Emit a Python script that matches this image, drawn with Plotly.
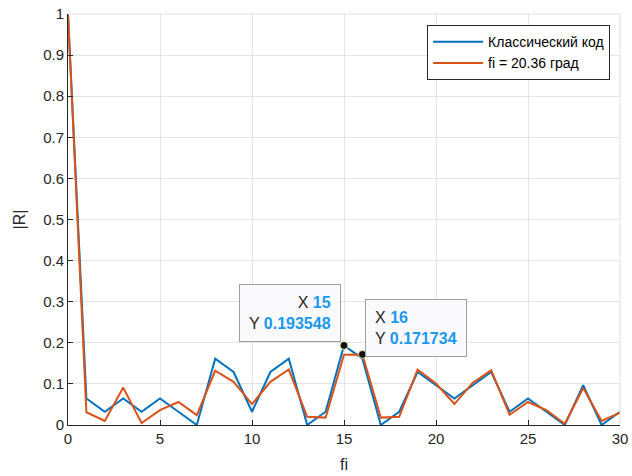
import plotly.graph_objects as go

# Lag index
lags = list(range(31))

# Autocorrelation magnitude, classical code
r_classic = [1.0, 0.0645, 0.0323, 0.0645, 0.0323, 0.0645, 0.0323, 0.0, 0.1613, 0.1290,
             0.0323, 0.1290, 0.1613, 0.0, 0.0323, 0.193548, 0.1613, 0.0, 0.0323, 0.1290,
             0.0968, 0.0645, 0.0968, 0.1290, 0.0323, 0.0645, 0.0323, 0.0, 0.0968, 0.0,
             0.0323]

# Autocorrelation magnitude, phase fi = 20.36 deg
r_phase = [1.0, 0.031, 0.010, 0.091, 0.005, 0.036, 0.056, 0.024, 0.132, 0.105,
           0.051, 0.105, 0.135, 0.020, 0.018, 0.171, 0.171734, 0.018, 0.020, 0.135,
           0.101, 0.051, 0.103, 0.133, 0.025, 0.056, 0.036, 0.003, 0.090, 0.010,
           0.030]

# Data tips
tip_x = [15, 16]
tip_y = [0.193548, 0.171734]

BLUE = "#0072BD"
ORANGE = "#D95319"
TXT = "#262626"
VAL = "#1A98F0"
FONT = "Liberation Sans, Arial, sans-serif"

fig = go.Figure()
fig.add_trace(go.Scatter(x=lags, y=r_classic, mode="lines", name="Классический код",
                         line=dict(color=BLUE, width=2)))
fig.add_trace(go.Scatter(x=lags, y=r_phase, mode="lines", name="fi = 20.36 град",
                         line=dict(color=ORANGE, width=2)))
fig.add_trace(go.Scatter(x=tip_x, y=tip_y, mode="markers", showlegend=False,
                         hoverinfo="skip",
                         marker=dict(color="#111111", size=8,
                                     line=dict(color="#f2e9a0", width=1))))

def tip_text(x, y):
    return (f"X <b><span style='color:{VAL}'>{x}</span></b><br>"
            f"Y <b><span style='color:{VAL}'>{y:g}</span></b>")

tip_layout = [("right", -3, 3), ("left", 3, -3)]
for (xa, xs, ys), x, y in zip(tip_layout, tip_x, tip_y):
    fig.add_annotation(x=x, y=y, xref="x", yref="y", showarrow=False,
                       text=tip_text(x, y), align="right" if xa == "right" else "left",
                       xanchor=xa, yanchor="bottom", xshift=xs, yshift=ys,
                       font=dict(family=FONT, size=16, color=TXT),
                       bgcolor="rgba(250,250,253,0.95)", bordercolor="#a0a0a0",
                       borderwidth=1, borderpad=9)

axis_common = dict(
    showline=True, linecolor=TXT, linewidth=1, mirror=False,
    ticks="inside", ticklen=5, tickcolor=TXT, tickwidth=1,
    showgrid=True, gridcolor="#e4e4e4", gridwidth=1, zeroline=False,
    automargin=False,
    tickfont=dict(family=FONT, size=15, color=TXT),
    title_font=dict(family=FONT, size=16, color=TXT),
)

fig.update_xaxes(range=[0, 30], tickvals=[0, 5, 10, 15, 20, 25, 30],
                 title_text="fi", title_standoff=12, **axis_common)
fig.update_yaxes(range=[0, 1], tickvals=[i / 10 for i in range(11)],
                 ticktext=["0", "0.1", "0.2", "0.3", "0.4", "0.5", "0.6", "0.7", "0.8", "0.9", "1"],
                 **axis_common)

# y-axis title
fig.add_annotation(text="|R|", xref="paper", yref="paper", x=0, y=0.5,
                   xanchor="center", yanchor="middle", xshift=-49, textangle=-90,
                   showarrow=False, font=dict(family=FONT, size=16, color=TXT))

# light box on the top and right edges
fig.add_shape(type="line", xref="paper", yref="paper", x0=0, x1=1, y0=1, y1=1,
              line=dict(color="#e0e0e0", width=1))
fig.add_shape(type="line", xref="paper", yref="paper", x0=1, x1=1, y0=0, y1=1,
              line=dict(color="#e0e0e0", width=1))

fig.update_layout(
    width=632, height=476,
    margin=dict(l=68, r=12, t=14, b=51),
    paper_bgcolor="white", plot_bgcolor="white",
    showlegend=True,
    legend=dict(x=0.982, y=0.973, xanchor="right", yanchor="top",
                bgcolor="white", bordercolor=TXT, borderwidth=1,
                font=dict(family=FONT, size=14, color="#000000"),
                tracegroupgap=0, itemwidth=50),
)

fig.write_html("out.html")
